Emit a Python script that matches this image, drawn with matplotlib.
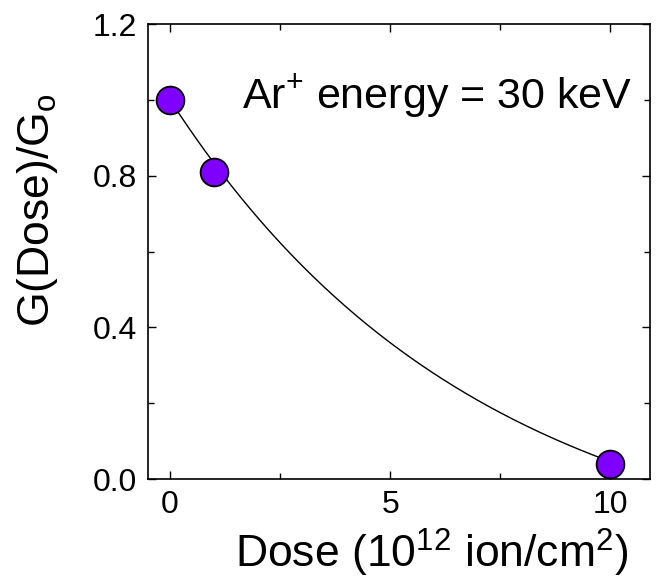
import numpy as np
import matplotlib
matplotlib.use("Agg")
import matplotlib.pyplot as plt

# measured points
dose = [0, 1, 10]
g_ratio = [1.0, 0.81, 0.04]

# exponential decay fit y = A*exp(-x/t) + y0 (parameters estimated from the drawn curve)
fit_A = 1.255
fit_t = 7.0
fit_y0 = -0.255

plt.rcParams['font.family'] = ['Liberation Sans', 'DejaVu Sans']
plt.rcParams['mathtext.fontset'] = 'custom'
plt.rcParams['mathtext.rm'] = 'Liberation Sans'
plt.rcParams['mathtext.it'] = 'Liberation Sans'

fig = plt.figure(figsize=(6.56, 5.79), dpi=100)
ax = fig.add_axes([0.2256, 0.1727, 0.7654, 0.7858])

xf = np.linspace(min(dose), max(dose), 200)
ax.plot(xf, fit_A * np.exp(-xf / fit_t) + fit_y0, color='black', lw=1.0, zorder=2)
ax.plot(dose, g_ratio, 'o', ms=20, mfc='#7f00ff', mec='black', mew=1.3, zorder=3)

ax.set_xlim(-0.5, 10.9)
ax.set_ylim(0, 1.2)
ax.set_xticks([0, 5, 10])
ax.set_xticks([2.5, 7.5], minor=True)
ax.set_yticks([0.0, 0.4, 0.8, 1.2])
ax.set_yticks([0.2, 0.6, 1.0], minor=True)
ax.set_yticklabels(['0.0', '0.4', '0.8', '1.2'])
ax.tick_params(which='both', direction='in', left=True, right=True, bottom=True, top=True,
               labelsize=23, pad=8, width=1.0)
ax.tick_params(which='major', length=6)
ax.tick_params(which='minor', length=4)
for s in ax.spines.values():
    s.set_linewidth(1.2)

ax.set_xlabel('Dose (10$^{12}$ ion/cm$^{2}$)', fontsize=32)
ax.xaxis.set_label_coords(0.565, -0.105)
ax.set_ylabel('G(Dose)/G$_{\\rm o}$', fontsize=32)
ax.yaxis.set_label_coords(-0.175, 0.59)

ax.text(0.964, 0.815, 'Ar$^{+}$ energy = 30 keV', transform=ax.transAxes,
        ha='right', va='baseline', fontsize=31)

fig.savefig('out.png', dpi=100)
